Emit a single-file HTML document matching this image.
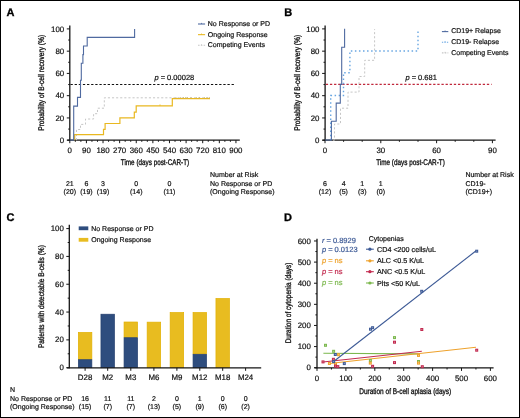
<!DOCTYPE html>
<html><head><meta charset="utf-8"><style>
html,body{margin:0;padding:0;background:#fff;width:520px;height:418px;overflow:hidden}
svg{display:block}
text{font-family:"Liberation Sans", sans-serif} svg{will-change:transform} text{text-rendering:geometricPrecision}
</style></head><body>
<svg fill="#1a1a1a" width="520" height="418" viewBox="0 0 520 418">
<rect x="0.5" y="0.5" width="519" height="417" fill="#fff" stroke="#000" stroke-width="1"/>
<line x1="69.80" y1="25.60" x2="69.80" y2="140.80" stroke="#151515" stroke-width="1.3"/>
<line x1="67.20" y1="140.20" x2="239.80" y2="140.20" stroke="#151515" stroke-width="1.3"/>
<line x1="66.80" y1="140.20" x2="69.80" y2="140.20" stroke="#151515" stroke-width="1"/>
<line x1="68.20" y1="129.07" x2="69.80" y2="129.07" stroke="#151515" stroke-width="1"/>
<line x1="66.80" y1="117.94" x2="69.80" y2="117.94" stroke="#151515" stroke-width="1"/>
<line x1="68.20" y1="106.81" x2="69.80" y2="106.81" stroke="#151515" stroke-width="1"/>
<line x1="66.80" y1="95.68" x2="69.80" y2="95.68" stroke="#151515" stroke-width="1"/>
<line x1="68.20" y1="84.55" x2="69.80" y2="84.55" stroke="#151515" stroke-width="1"/>
<line x1="66.80" y1="73.42" x2="69.80" y2="73.42" stroke="#151515" stroke-width="1"/>
<line x1="68.20" y1="62.29" x2="69.80" y2="62.29" stroke="#151515" stroke-width="1"/>
<line x1="66.80" y1="51.16" x2="69.80" y2="51.16" stroke="#151515" stroke-width="1"/>
<line x1="68.20" y1="40.03" x2="69.80" y2="40.03" stroke="#151515" stroke-width="1"/>
<line x1="66.80" y1="28.90" x2="69.80" y2="28.90" stroke="#151515" stroke-width="1"/>
<text x="64.20" y="142.80" font-size="7.9" text-anchor="end" fill="#111" stroke="#111" stroke-width="0.2">0</text>
<text x="64.20" y="120.54" font-size="7.9" text-anchor="end" fill="#111" stroke="#111" stroke-width="0.2">20</text>
<text x="64.20" y="98.28" font-size="7.9" text-anchor="end" fill="#111" stroke="#111" stroke-width="0.2">40</text>
<text x="64.20" y="76.02" font-size="7.9" text-anchor="end" fill="#111" stroke="#111" stroke-width="0.2">60</text>
<text x="64.20" y="53.76" font-size="7.9" text-anchor="end" fill="#111" stroke="#111" stroke-width="0.2">80</text>
<text x="64.20" y="31.50" font-size="7.9" text-anchor="end" fill="#111" stroke="#111" stroke-width="0.2">100</text>
<line x1="69.80" y1="140.20" x2="69.80" y2="143.20" stroke="#151515" stroke-width="1"/>
<line x1="75.34" y1="140.20" x2="75.34" y2="141.80" stroke="#151515" stroke-width="1"/>
<line x1="80.88" y1="140.20" x2="80.88" y2="141.80" stroke="#151515" stroke-width="1"/>
<line x1="86.41" y1="140.20" x2="86.41" y2="143.20" stroke="#151515" stroke-width="1"/>
<line x1="91.95" y1="140.20" x2="91.95" y2="141.80" stroke="#151515" stroke-width="1"/>
<line x1="97.49" y1="140.20" x2="97.49" y2="141.80" stroke="#151515" stroke-width="1"/>
<line x1="103.03" y1="140.20" x2="103.03" y2="143.20" stroke="#151515" stroke-width="1"/>
<line x1="108.57" y1="140.20" x2="108.57" y2="141.80" stroke="#151515" stroke-width="1"/>
<line x1="114.10" y1="140.20" x2="114.10" y2="141.80" stroke="#151515" stroke-width="1"/>
<line x1="119.64" y1="140.20" x2="119.64" y2="143.20" stroke="#151515" stroke-width="1"/>
<line x1="125.18" y1="140.20" x2="125.18" y2="141.80" stroke="#151515" stroke-width="1"/>
<line x1="130.72" y1="140.20" x2="130.72" y2="141.80" stroke="#151515" stroke-width="1"/>
<line x1="136.26" y1="140.20" x2="136.26" y2="143.20" stroke="#151515" stroke-width="1"/>
<line x1="141.79" y1="140.20" x2="141.79" y2="141.80" stroke="#151515" stroke-width="1"/>
<line x1="147.33" y1="140.20" x2="147.33" y2="141.80" stroke="#151515" stroke-width="1"/>
<line x1="152.87" y1="140.20" x2="152.87" y2="143.20" stroke="#151515" stroke-width="1"/>
<line x1="158.41" y1="140.20" x2="158.41" y2="141.80" stroke="#151515" stroke-width="1"/>
<line x1="163.95" y1="140.20" x2="163.95" y2="141.80" stroke="#151515" stroke-width="1"/>
<line x1="169.48" y1="140.20" x2="169.48" y2="143.20" stroke="#151515" stroke-width="1"/>
<line x1="175.02" y1="140.20" x2="175.02" y2="141.80" stroke="#151515" stroke-width="1"/>
<line x1="180.56" y1="140.20" x2="180.56" y2="141.80" stroke="#151515" stroke-width="1"/>
<line x1="186.10" y1="140.20" x2="186.10" y2="143.20" stroke="#151515" stroke-width="1"/>
<line x1="191.64" y1="140.20" x2="191.64" y2="141.80" stroke="#151515" stroke-width="1"/>
<line x1="197.17" y1="140.20" x2="197.17" y2="141.80" stroke="#151515" stroke-width="1"/>
<line x1="202.71" y1="140.20" x2="202.71" y2="143.20" stroke="#151515" stroke-width="1"/>
<line x1="208.25" y1="140.20" x2="208.25" y2="141.80" stroke="#151515" stroke-width="1"/>
<line x1="213.79" y1="140.20" x2="213.79" y2="141.80" stroke="#151515" stroke-width="1"/>
<line x1="219.33" y1="140.20" x2="219.33" y2="143.20" stroke="#151515" stroke-width="1"/>
<line x1="224.86" y1="140.20" x2="224.86" y2="141.80" stroke="#151515" stroke-width="1"/>
<line x1="230.40" y1="140.20" x2="230.40" y2="141.80" stroke="#151515" stroke-width="1"/>
<line x1="235.94" y1="140.20" x2="235.94" y2="143.20" stroke="#151515" stroke-width="1"/>
<text x="69.80" y="152.60" font-size="7.9" text-anchor="middle" fill="#111" stroke="#111" stroke-width="0.2">0</text>
<text x="86.41" y="152.60" font-size="7.9" text-anchor="middle" fill="#111" stroke="#111" stroke-width="0.2">90</text>
<text x="103.03" y="152.60" font-size="7.9" text-anchor="middle" fill="#111" stroke="#111" stroke-width="0.2">180</text>
<text x="119.64" y="152.60" font-size="7.9" text-anchor="middle" fill="#111" stroke="#111" stroke-width="0.2">270</text>
<text x="136.26" y="152.60" font-size="7.9" text-anchor="middle" fill="#111" stroke="#111" stroke-width="0.2">360</text>
<text x="152.87" y="152.60" font-size="7.9" text-anchor="middle" fill="#111" stroke="#111" stroke-width="0.2">450</text>
<text x="169.48" y="152.60" font-size="7.9" text-anchor="middle" fill="#111" stroke="#111" stroke-width="0.2">540</text>
<text x="186.10" y="152.60" font-size="7.9" text-anchor="middle" fill="#111" stroke="#111" stroke-width="0.2">630</text>
<text x="202.71" y="152.60" font-size="7.9" text-anchor="middle" fill="#111" stroke="#111" stroke-width="0.2">720</text>
<text x="219.33" y="152.60" font-size="7.9" text-anchor="middle" fill="#111" stroke="#111" stroke-width="0.2">810</text>
<text x="235.94" y="152.60" font-size="7.9" text-anchor="middle" fill="#111" stroke="#111" stroke-width="0.2">900</text>
<text x="155.00" y="165.40" font-size="8.2" text-anchor="middle" fill="#111" stroke="#111" stroke-width="0.32" textLength="68.4" lengthAdjust="spacingAndGlyphs">Time (days post-CAR-T)</text>
<text transform="translate(44.30,82.80) rotate(-90)" text-anchor="middle" font-size="8.2" textLength="95.9" lengthAdjust="spacingAndGlyphs" fill="#111" stroke="#111" stroke-width="0.32">Probability of B-cell recovery (%)</text>
<line x1="70.50" y1="84.50" x2="235.30" y2="84.50" stroke="#111" stroke-width="1.1" stroke-dasharray="2.3 1.83"/>
<text x="154.40" y="80.40" font-size="7.5" fill="#111" stroke="#111" stroke-width="0.2"><tspan font-style="italic">p</tspan> = 0.00028</text>
<polyline points="76.50,140.20 76.50,140.20 76.50,129.50 80.50,129.50 80.50,124.40 85.50,124.40 85.50,119.00 93.60,119.00 93.60,113.70 97.50,113.70 97.50,108.20 104.30,108.20 104.30,97.80 210.00,97.80" fill="none" stroke="#c6c6c6" stroke-width="1" stroke-dasharray="2.1 2.0"/>
<polyline points="74.70,140.20 74.70,140.20 74.70,134.70 103.50,134.70 103.50,129.30 105.10,129.30 105.10,123.50 119.90,123.50 119.90,117.90 134.30,117.90 134.30,112.20 136.20,112.20 136.20,105.90 172.30,105.90 172.30,98.60 210.00,98.60" fill="none" stroke="#e9b820" stroke-width="1.2"/>
<line x1="160.00" y1="104.40" x2="160.00" y2="105.80" stroke="#e9b820" stroke-width="0.8"/>
<line x1="176.00" y1="97.10" x2="176.00" y2="98.60" stroke="#c9b060" stroke-width="0.7"/>
<line x1="180.50" y1="97.10" x2="180.50" y2="98.60" stroke="#c9b060" stroke-width="0.7"/>
<line x1="183.50" y1="97.10" x2="183.50" y2="98.60" stroke="#c9b060" stroke-width="0.7"/>
<line x1="185.50" y1="97.10" x2="185.50" y2="98.60" stroke="#c9b060" stroke-width="0.7"/>
<line x1="187.50" y1="97.10" x2="187.50" y2="98.60" stroke="#c9b060" stroke-width="0.7"/>
<line x1="191.00" y1="97.10" x2="191.00" y2="98.60" stroke="#c9b060" stroke-width="0.7"/>
<line x1="196.50" y1="97.10" x2="196.50" y2="98.60" stroke="#c9b060" stroke-width="0.7"/>
<line x1="199.50" y1="97.10" x2="199.50" y2="98.60" stroke="#c9b060" stroke-width="0.7"/>
<line x1="204.50" y1="97.10" x2="204.50" y2="98.60" stroke="#c9b060" stroke-width="0.7"/>
<line x1="207.00" y1="97.10" x2="207.00" y2="98.60" stroke="#c9b060" stroke-width="0.7"/>
<line x1="209.50" y1="97.10" x2="209.50" y2="98.60" stroke="#c9b060" stroke-width="0.7"/>
<polyline points="69.80,140.00 73.70,140.00 73.70,106.10 77.50,106.10 77.50,97.40 80.50,97.40 80.50,80.30 81.30,80.30 81.30,63.20 82.90,63.20 82.90,54.60 83.50,54.60 83.50,46.00 87.20,46.00 87.20,37.40 134.60,37.40 134.60,29.00" fill="none" stroke="#4f6aa0" stroke-width="1.1"/>
<line x1="198.00" y1="24.00" x2="205.10" y2="24.00" stroke="#4f6aa0" stroke-width="1.1"/>
<line x1="201.50" y1="22.90" x2="201.50" y2="24.00" stroke="#4f6aa0" stroke-width="0.8"/>
<text x="207.80" y="25.75" font-size="7" fill="#111" stroke="#111" stroke-width="0.2">No Response or PD</text>
<line x1="198.00" y1="34.65" x2="205.10" y2="34.65" stroke="#e9b820" stroke-width="1.1"/>
<line x1="201.50" y1="33.55" x2="201.50" y2="34.65" stroke="#e9b820" stroke-width="0.8"/>
<text x="207.80" y="36.60" font-size="7" fill="#111" stroke="#111" stroke-width="0.2">Ongoing Response</text>
<line x1="198.00" y1="45.30" x2="205.10" y2="45.30" stroke="#c6c6c6" stroke-width="1.1" stroke-dasharray="1.6 1.2"/>
<line x1="201.50" y1="44.20" x2="201.50" y2="45.30" stroke="#c6c6c6" stroke-width="0.8"/>
<text x="207.80" y="47.45" font-size="7" fill="#111" stroke="#111" stroke-width="0.2">Competing Events</text>
<text x="69.80" y="186.00" font-size="7" text-anchor="middle" fill="#111" stroke="#111" stroke-width="0.2">21</text>
<text x="69.80" y="194.20" font-size="7" text-anchor="middle" fill="#111" stroke="#111" stroke-width="0.2">(20)</text>
<text x="86.41" y="186.00" font-size="7" text-anchor="middle" fill="#111" stroke="#111" stroke-width="0.2">6</text>
<text x="86.41" y="194.20" font-size="7" text-anchor="middle" fill="#111" stroke="#111" stroke-width="0.2">(19)</text>
<text x="103.03" y="186.00" font-size="7" text-anchor="middle" fill="#111" stroke="#111" stroke-width="0.2">3</text>
<text x="103.03" y="194.20" font-size="7" text-anchor="middle" fill="#111" stroke="#111" stroke-width="0.2">(19)</text>
<text x="136.26" y="186.00" font-size="7" text-anchor="middle" fill="#111" stroke="#111" stroke-width="0.2">0</text>
<text x="136.26" y="194.20" font-size="7" text-anchor="middle" fill="#111" stroke="#111" stroke-width="0.2">(14)</text>
<text x="169.48" y="186.00" font-size="7" text-anchor="middle" fill="#111" stroke="#111" stroke-width="0.2">0</text>
<text x="169.48" y="194.20" font-size="7" text-anchor="middle" fill="#111" stroke="#111" stroke-width="0.2">(11)</text>
<text x="210.00" y="177.20" font-size="7" fill="#111" stroke="#111" stroke-width="0.2">Number at Risk</text>
<text x="210.00" y="185.70" font-size="7" fill="#111" stroke="#111" stroke-width="0.2">No Response or PD</text>
<text x="210.00" y="194.10" font-size="7" fill="#111" stroke="#111" stroke-width="0.2">(Ongoing Response)</text>
<text x="6.60" y="16.40" font-size="11" fill="#000" stroke="#000" stroke-width="0.3" font-weight="bold">A</text>
<line x1="325.10" y1="25.40" x2="325.10" y2="140.80" stroke="#151515" stroke-width="1.3"/>
<line x1="322.50" y1="140.20" x2="495.60" y2="140.20" stroke="#151515" stroke-width="1.3"/>
<line x1="322.10" y1="140.20" x2="325.10" y2="140.20" stroke="#151515" stroke-width="1"/>
<line x1="323.50" y1="129.07" x2="325.10" y2="129.07" stroke="#151515" stroke-width="1"/>
<line x1="322.10" y1="117.94" x2="325.10" y2="117.94" stroke="#151515" stroke-width="1"/>
<line x1="323.50" y1="106.81" x2="325.10" y2="106.81" stroke="#151515" stroke-width="1"/>
<line x1="322.10" y1="95.68" x2="325.10" y2="95.68" stroke="#151515" stroke-width="1"/>
<line x1="323.50" y1="84.55" x2="325.10" y2="84.55" stroke="#151515" stroke-width="1"/>
<line x1="322.10" y1="73.42" x2="325.10" y2="73.42" stroke="#151515" stroke-width="1"/>
<line x1="323.50" y1="62.29" x2="325.10" y2="62.29" stroke="#151515" stroke-width="1"/>
<line x1="322.10" y1="51.16" x2="325.10" y2="51.16" stroke="#151515" stroke-width="1"/>
<line x1="323.50" y1="40.03" x2="325.10" y2="40.03" stroke="#151515" stroke-width="1"/>
<line x1="322.10" y1="28.90" x2="325.10" y2="28.90" stroke="#151515" stroke-width="1"/>
<text x="319.50" y="142.80" font-size="7.9" text-anchor="end" fill="#111" stroke="#111" stroke-width="0.2">0</text>
<text x="319.50" y="120.54" font-size="7.9" text-anchor="end" fill="#111" stroke="#111" stroke-width="0.2">20</text>
<text x="319.50" y="98.28" font-size="7.9" text-anchor="end" fill="#111" stroke="#111" stroke-width="0.2">40</text>
<text x="319.50" y="76.02" font-size="7.9" text-anchor="end" fill="#111" stroke="#111" stroke-width="0.2">60</text>
<text x="319.50" y="53.76" font-size="7.9" text-anchor="end" fill="#111" stroke="#111" stroke-width="0.2">80</text>
<text x="319.50" y="31.50" font-size="7.9" text-anchor="end" fill="#111" stroke="#111" stroke-width="0.2">100</text>
<line x1="325.00" y1="140.20" x2="325.00" y2="143.20" stroke="#151515" stroke-width="1"/>
<line x1="343.60" y1="140.20" x2="343.60" y2="141.80" stroke="#151515" stroke-width="1"/>
<line x1="362.20" y1="140.20" x2="362.20" y2="141.80" stroke="#151515" stroke-width="1"/>
<line x1="380.80" y1="140.20" x2="380.80" y2="143.20" stroke="#151515" stroke-width="1"/>
<line x1="399.40" y1="140.20" x2="399.40" y2="141.80" stroke="#151515" stroke-width="1"/>
<line x1="418.00" y1="140.20" x2="418.00" y2="141.80" stroke="#151515" stroke-width="1"/>
<line x1="436.60" y1="140.20" x2="436.60" y2="143.20" stroke="#151515" stroke-width="1"/>
<line x1="455.20" y1="140.20" x2="455.20" y2="141.80" stroke="#151515" stroke-width="1"/>
<line x1="473.80" y1="140.20" x2="473.80" y2="141.80" stroke="#151515" stroke-width="1"/>
<line x1="492.40" y1="140.20" x2="492.40" y2="143.20" stroke="#151515" stroke-width="1"/>
<text x="325.00" y="152.60" font-size="7.9" text-anchor="middle" fill="#111" stroke="#111" stroke-width="0.2">0</text>
<text x="380.80" y="152.60" font-size="7.9" text-anchor="middle" fill="#111" stroke="#111" stroke-width="0.2">30</text>
<text x="436.60" y="152.60" font-size="7.9" text-anchor="middle" fill="#111" stroke="#111" stroke-width="0.2">60</text>
<text x="492.40" y="152.60" font-size="7.9" text-anchor="middle" fill="#111" stroke="#111" stroke-width="0.2">90</text>
<text x="410.50" y="165.40" font-size="8.2" text-anchor="middle" fill="#111" stroke="#111" stroke-width="0.32" textLength="68.7" lengthAdjust="spacingAndGlyphs">Time (days post-CAR-T)</text>
<text transform="translate(299.60,82.80) rotate(-90)" text-anchor="middle" font-size="8.2" textLength="95.9" lengthAdjust="spacingAndGlyphs" fill="#111" stroke="#111" stroke-width="0.32">Probability of B-cell recovery (%)</text>
<line x1="325.80" y1="84.40" x2="491.60" y2="84.40" stroke="#c0283c" stroke-width="1.1" stroke-dasharray="2.3 1.83"/>
<text x="405.40" y="80.40" font-size="7.5" fill="#111" stroke="#111" stroke-width="0.2"><tspan font-style="italic">p</tspan> = 0.681</text>
<polyline points="333.00,140.20 334.50,140.20 334.50,124.00 340.50,124.00 340.50,108.20 348.00,108.20 348.00,92.10 359.00,92.10 359.00,76.50 364.70,76.50 364.70,60.30 374.60,60.30 374.60,29.20" fill="none" stroke="#c6c6c6" stroke-width="1" stroke-dasharray="2.1 2.0"/>
<polyline points="330.70,140.20 330.70,95.50 343.50,95.50 343.50,72.70 349.90,72.70 349.90,51.00 418.00,51.00 418.00,29.50" fill="none" stroke="#68a6e2" stroke-width="1.4" stroke-dasharray="1.5 2.55"/>
<polyline points="325.10,140.00 331.40,140.00 331.40,121.30 336.20,121.30 336.20,103.10 340.30,103.10 340.30,84.40 341.70,84.40 341.70,47.20 344.60,47.20 344.60,28.80" fill="none" stroke="#4f6aa0" stroke-width="1.1"/>
<line x1="441.90" y1="31.60" x2="448.30" y2="31.60" stroke="#4f6aa0" stroke-width="1.1"/>
<line x1="445.10" y1="30.50" x2="445.10" y2="31.60" stroke="#4f6aa0" stroke-width="0.8"/>
<text x="451.20" y="33.30" font-size="7" fill="#111" stroke="#111" stroke-width="0.2">CD19+ Relapse</text>
<line x1="441.90" y1="42.25" x2="448.30" y2="42.25" stroke="#68a6e2" stroke-width="1.1" stroke-dasharray="1.3 1.2"/>
<line x1="445.10" y1="41.15" x2="445.10" y2="42.25" stroke="#68a6e2" stroke-width="0.8"/>
<text x="451.20" y="44.15" font-size="7" fill="#111" stroke="#111" stroke-width="0.2">CD19- Relapse</text>
<line x1="441.90" y1="52.90" x2="448.30" y2="52.90" stroke="#c6c6c6" stroke-width="1.1" stroke-dasharray="1.6 1.2"/>
<line x1="445.10" y1="51.80" x2="445.10" y2="52.90" stroke="#c6c6c6" stroke-width="0.8"/>
<text x="451.20" y="55.00" font-size="7" fill="#111" stroke="#111" stroke-width="0.2">Competing Events</text>
<text x="325.00" y="186.00" font-size="7" text-anchor="middle" fill="#111" stroke="#111" stroke-width="0.2">6</text>
<text x="325.00" y="194.20" font-size="7" text-anchor="middle" fill="#111" stroke="#111" stroke-width="0.2">(12)</text>
<text x="343.60" y="186.00" font-size="7" text-anchor="middle" fill="#111" stroke="#111" stroke-width="0.2">4</text>
<text x="343.60" y="194.20" font-size="7" text-anchor="middle" fill="#111" stroke="#111" stroke-width="0.2">(5)</text>
<text x="362.20" y="186.00" font-size="7" text-anchor="middle" fill="#111" stroke="#111" stroke-width="0.2">1</text>
<text x="362.20" y="194.20" font-size="7" text-anchor="middle" fill="#111" stroke="#111" stroke-width="0.2">(3)</text>
<text x="380.80" y="186.00" font-size="7" text-anchor="middle" fill="#111" stroke="#111" stroke-width="0.2">1</text>
<text x="380.80" y="194.20" font-size="7" text-anchor="middle" fill="#111" stroke="#111" stroke-width="0.2">(0)</text>
<text x="465.40" y="177.00" font-size="7" fill="#111" stroke="#111" stroke-width="0.2">Number at Risk</text>
<text x="465.40" y="185.50" font-size="7" fill="#111" stroke="#111" stroke-width="0.2">CD19-</text>
<text x="465.40" y="194.10" font-size="7" fill="#111" stroke="#111" stroke-width="0.2">(CD19+)</text>
<text x="284.20" y="15.90" font-size="11" fill="#000" stroke="#000" stroke-width="0.3" font-weight="bold">B</text>
<rect x="78.35" y="332.44" width="13.5" height="26.91" fill="#e8bc20" stroke="#e2b000" stroke-width="0.7"/>
<rect x="78.35" y="359.70" width="13.5" height="8.00" fill="#2e4d7e" stroke="#243f6e" stroke-width="0.7"/>
<rect x="100.95" y="314.22" width="13.5" height="53.48" fill="#2e4d7e" stroke="#243f6e" stroke-width="0.7"/>
<rect x="124.05" y="322.01" width="13.5" height="15.37" fill="#e8bc20" stroke="#e2b000" stroke-width="0.7"/>
<rect x="124.05" y="337.73" width="13.5" height="29.97" fill="#2e4d7e" stroke="#243f6e" stroke-width="0.7"/>
<rect x="147.15" y="322.15" width="13.5" height="45.55" fill="#e8bc20" stroke="#e2b000" stroke-width="0.7"/>
<rect x="170.15" y="312.55" width="13.5" height="55.15" fill="#e8bc20" stroke="#e2b000" stroke-width="0.7"/>
<rect x="193.05" y="312.55" width="13.5" height="41.38" fill="#e8bc20" stroke="#e2b000" stroke-width="0.7"/>
<rect x="193.05" y="354.28" width="13.5" height="13.42" fill="#2e4d7e" stroke="#243f6e" stroke-width="0.7"/>
<rect x="215.95" y="298.50" width="13.5" height="69.20" fill="#e8bc20" stroke="#e2b000" stroke-width="0.7"/>
<line x1="69.30" y1="224.80" x2="69.30" y2="368.30" stroke="#151515" stroke-width="1.3"/>
<line x1="66.80" y1="367.90" x2="261.20" y2="367.90" stroke="#151515" stroke-width="1.3"/>
<line x1="66.30" y1="367.70" x2="69.30" y2="367.70" stroke="#151515" stroke-width="1"/>
<line x1="67.70" y1="353.79" x2="69.30" y2="353.79" stroke="#151515" stroke-width="1"/>
<line x1="66.30" y1="339.88" x2="69.30" y2="339.88" stroke="#151515" stroke-width="1"/>
<line x1="67.70" y1="325.97" x2="69.30" y2="325.97" stroke="#151515" stroke-width="1"/>
<line x1="66.30" y1="312.06" x2="69.30" y2="312.06" stroke="#151515" stroke-width="1"/>
<line x1="67.70" y1="298.15" x2="69.30" y2="298.15" stroke="#151515" stroke-width="1"/>
<line x1="66.30" y1="284.24" x2="69.30" y2="284.24" stroke="#151515" stroke-width="1"/>
<line x1="67.70" y1="270.33" x2="69.30" y2="270.33" stroke="#151515" stroke-width="1"/>
<line x1="66.30" y1="256.42" x2="69.30" y2="256.42" stroke="#151515" stroke-width="1"/>
<line x1="67.70" y1="242.51" x2="69.30" y2="242.51" stroke="#151515" stroke-width="1"/>
<line x1="66.30" y1="228.60" x2="69.30" y2="228.60" stroke="#151515" stroke-width="1"/>
<text x="63.80" y="370.30" font-size="7.9" text-anchor="end" fill="#111" stroke="#111" stroke-width="0.2">0</text>
<text x="63.80" y="342.48" font-size="7.9" text-anchor="end" fill="#111" stroke="#111" stroke-width="0.2">20</text>
<text x="63.80" y="314.66" font-size="7.9" text-anchor="end" fill="#111" stroke="#111" stroke-width="0.2">40</text>
<text x="63.80" y="286.84" font-size="7.9" text-anchor="end" fill="#111" stroke="#111" stroke-width="0.2">60</text>
<text x="63.80" y="259.02" font-size="7.9" text-anchor="end" fill="#111" stroke="#111" stroke-width="0.2">80</text>
<text x="63.80" y="231.20" font-size="7.9" text-anchor="end" fill="#111" stroke="#111" stroke-width="0.2">100</text>
<line x1="85.10" y1="367.90" x2="85.10" y2="370.80" stroke="#151515" stroke-width="1"/>
<text x="85.10" y="379.90" font-size="7.9" text-anchor="middle" fill="#111" stroke="#111" stroke-width="0.2">D28</text>
<line x1="107.70" y1="367.90" x2="107.70" y2="370.80" stroke="#151515" stroke-width="1"/>
<text x="107.70" y="379.90" font-size="7.9" text-anchor="middle" fill="#111" stroke="#111" stroke-width="0.2">M2</text>
<line x1="130.80" y1="367.90" x2="130.80" y2="370.80" stroke="#151515" stroke-width="1"/>
<text x="130.80" y="379.90" font-size="7.9" text-anchor="middle" fill="#111" stroke="#111" stroke-width="0.2">M3</text>
<line x1="153.90" y1="367.90" x2="153.90" y2="370.80" stroke="#151515" stroke-width="1"/>
<text x="153.90" y="379.90" font-size="7.9" text-anchor="middle" fill="#111" stroke="#111" stroke-width="0.2">M6</text>
<line x1="176.90" y1="367.90" x2="176.90" y2="370.80" stroke="#151515" stroke-width="1"/>
<text x="176.90" y="379.90" font-size="7.9" text-anchor="middle" fill="#111" stroke="#111" stroke-width="0.2">M9</text>
<line x1="199.80" y1="367.90" x2="199.80" y2="370.80" stroke="#151515" stroke-width="1"/>
<text x="199.80" y="379.90" font-size="7.9" text-anchor="middle" fill="#111" stroke="#111" stroke-width="0.2">M12</text>
<line x1="222.70" y1="367.90" x2="222.70" y2="370.80" stroke="#151515" stroke-width="1"/>
<text x="222.70" y="379.90" font-size="7.9" text-anchor="middle" fill="#111" stroke="#111" stroke-width="0.2">M18</text>
<line x1="245.60" y1="367.90" x2="245.60" y2="370.80" stroke="#151515" stroke-width="1"/>
<text x="245.60" y="379.90" font-size="7.9" text-anchor="middle" fill="#111" stroke="#111" stroke-width="0.2">M24</text>
<text transform="translate(44.00,296.60) rotate(-90)" text-anchor="middle" font-size="8.2" textLength="103" lengthAdjust="spacingAndGlyphs" fill="#111" stroke="#111" stroke-width="0.32">Patients with detectable B-cells (%)</text>
<rect x="78.7" y="226.4" width="9.6" height="3.8" fill="#2e4d7e"/>
<rect x="78.7" y="237.9" width="9.6" height="3.8" fill="#e8bc20"/>
<text x="91.20" y="231.10" font-size="7" fill="#111" stroke="#111" stroke-width="0.2">No Response or PD</text>
<text x="91.20" y="242.00" font-size="7" fill="#111" stroke="#111" stroke-width="0.2">Ongoing Response</text>
<text x="10.00" y="391.80" font-size="7" fill="#111" stroke="#111" stroke-width="0.2">N</text>
<text x="10.00" y="400.80" font-size="7" fill="#111" stroke="#111" stroke-width="0.2">No Response or PD</text>
<text x="10.00" y="409.20" font-size="7" fill="#111" stroke="#111" stroke-width="0.2">(Ongoing Response)</text>
<text x="85.10" y="400.80" font-size="7" text-anchor="middle" fill="#111" stroke="#111" stroke-width="0.2">16</text>
<text x="85.10" y="409.20" font-size="7" text-anchor="middle" fill="#111" stroke="#111" stroke-width="0.2">(15)</text>
<text x="107.70" y="400.80" font-size="7" text-anchor="middle" fill="#111" stroke="#111" stroke-width="0.2">11</text>
<text x="107.70" y="409.20" font-size="7" text-anchor="middle" fill="#111" stroke="#111" stroke-width="0.2">(7)</text>
<text x="130.80" y="400.80" font-size="7" text-anchor="middle" fill="#111" stroke="#111" stroke-width="0.2">11</text>
<text x="130.80" y="409.20" font-size="7" text-anchor="middle" fill="#111" stroke="#111" stroke-width="0.2">(7)</text>
<text x="153.90" y="400.80" font-size="7" text-anchor="middle" fill="#111" stroke="#111" stroke-width="0.2">2</text>
<text x="153.90" y="409.20" font-size="7" text-anchor="middle" fill="#111" stroke="#111" stroke-width="0.2">(13)</text>
<text x="176.90" y="400.80" font-size="7" text-anchor="middle" fill="#111" stroke="#111" stroke-width="0.2">0</text>
<text x="176.90" y="409.20" font-size="7" text-anchor="middle" fill="#111" stroke="#111" stroke-width="0.2">(5)</text>
<text x="199.80" y="400.80" font-size="7" text-anchor="middle" fill="#111" stroke="#111" stroke-width="0.2">1</text>
<text x="199.80" y="409.20" font-size="7" text-anchor="middle" fill="#111" stroke="#111" stroke-width="0.2">(9)</text>
<text x="222.70" y="400.80" font-size="7" text-anchor="middle" fill="#111" stroke="#111" stroke-width="0.2">0</text>
<text x="222.70" y="409.20" font-size="7" text-anchor="middle" fill="#111" stroke="#111" stroke-width="0.2">(6)</text>
<text x="245.60" y="400.80" font-size="7" text-anchor="middle" fill="#111" stroke="#111" stroke-width="0.2">0</text>
<text x="245.60" y="409.20" font-size="7" text-anchor="middle" fill="#111" stroke="#111" stroke-width="0.2">(2)</text>
<text x="6.60" y="220.90" font-size="11" fill="#000" stroke="#000" stroke-width="0.3" font-weight="bold">C</text>
<line x1="317.00" y1="238.70" x2="317.00" y2="368.30" stroke="#151515" stroke-width="1.3"/>
<line x1="314.50" y1="367.90" x2="493.60" y2="367.90" stroke="#151515" stroke-width="1.3"/>
<line x1="314.00" y1="367.70" x2="317.00" y2="367.70" stroke="#151515" stroke-width="1"/>
<line x1="315.40" y1="357.14" x2="317.00" y2="357.14" stroke="#151515" stroke-width="1"/>
<line x1="314.00" y1="346.58" x2="317.00" y2="346.58" stroke="#151515" stroke-width="1"/>
<line x1="315.40" y1="336.02" x2="317.00" y2="336.02" stroke="#151515" stroke-width="1"/>
<line x1="314.00" y1="325.46" x2="317.00" y2="325.46" stroke="#151515" stroke-width="1"/>
<line x1="315.40" y1="314.90" x2="317.00" y2="314.90" stroke="#151515" stroke-width="1"/>
<line x1="314.00" y1="304.34" x2="317.00" y2="304.34" stroke="#151515" stroke-width="1"/>
<line x1="315.40" y1="293.78" x2="317.00" y2="293.78" stroke="#151515" stroke-width="1"/>
<line x1="314.00" y1="283.22" x2="317.00" y2="283.22" stroke="#151515" stroke-width="1"/>
<line x1="315.40" y1="272.66" x2="317.00" y2="272.66" stroke="#151515" stroke-width="1"/>
<line x1="314.00" y1="262.10" x2="317.00" y2="262.10" stroke="#151515" stroke-width="1"/>
<line x1="315.40" y1="251.54" x2="317.00" y2="251.54" stroke="#151515" stroke-width="1"/>
<line x1="314.00" y1="240.98" x2="317.00" y2="240.98" stroke="#151515" stroke-width="1"/>
<text x="310.90" y="370.30" font-size="7.9" text-anchor="end" fill="#111" stroke="#111" stroke-width="0.2">0</text>
<text x="310.90" y="349.18" font-size="7.9" text-anchor="end" fill="#111" stroke="#111" stroke-width="0.2">100</text>
<text x="310.90" y="328.06" font-size="7.9" text-anchor="end" fill="#111" stroke="#111" stroke-width="0.2">200</text>
<text x="310.90" y="306.94" font-size="7.9" text-anchor="end" fill="#111" stroke="#111" stroke-width="0.2">300</text>
<text x="310.90" y="285.82" font-size="7.9" text-anchor="end" fill="#111" stroke="#111" stroke-width="0.2">400</text>
<text x="310.90" y="264.70" font-size="7.9" text-anchor="end" fill="#111" stroke="#111" stroke-width="0.2">500</text>
<text x="310.90" y="243.58" font-size="7.9" text-anchor="end" fill="#111" stroke="#111" stroke-width="0.2">600</text>
<line x1="317.00" y1="367.90" x2="317.00" y2="370.90" stroke="#151515" stroke-width="1"/>
<line x1="331.45" y1="367.90" x2="331.45" y2="369.50" stroke="#151515" stroke-width="1"/>
<line x1="345.90" y1="367.90" x2="345.90" y2="370.90" stroke="#151515" stroke-width="1"/>
<line x1="360.35" y1="367.90" x2="360.35" y2="369.50" stroke="#151515" stroke-width="1"/>
<line x1="374.80" y1="367.90" x2="374.80" y2="370.90" stroke="#151515" stroke-width="1"/>
<line x1="389.25" y1="367.90" x2="389.25" y2="369.50" stroke="#151515" stroke-width="1"/>
<line x1="403.70" y1="367.90" x2="403.70" y2="370.90" stroke="#151515" stroke-width="1"/>
<line x1="418.15" y1="367.90" x2="418.15" y2="369.50" stroke="#151515" stroke-width="1"/>
<line x1="432.60" y1="367.90" x2="432.60" y2="370.90" stroke="#151515" stroke-width="1"/>
<line x1="447.05" y1="367.90" x2="447.05" y2="369.50" stroke="#151515" stroke-width="1"/>
<line x1="461.50" y1="367.90" x2="461.50" y2="370.90" stroke="#151515" stroke-width="1"/>
<line x1="475.95" y1="367.90" x2="475.95" y2="369.50" stroke="#151515" stroke-width="1"/>
<line x1="490.40" y1="367.90" x2="490.40" y2="370.90" stroke="#151515" stroke-width="1"/>
<text x="317.00" y="380.60" font-size="7.9" text-anchor="middle" fill="#111" stroke="#111" stroke-width="0.2">0</text>
<text x="345.90" y="380.60" font-size="7.9" text-anchor="middle" fill="#111" stroke="#111" stroke-width="0.2">100</text>
<text x="374.80" y="380.60" font-size="7.9" text-anchor="middle" fill="#111" stroke="#111" stroke-width="0.2">200</text>
<text x="403.70" y="380.60" font-size="7.9" text-anchor="middle" fill="#111" stroke="#111" stroke-width="0.2">300</text>
<text x="432.60" y="380.60" font-size="7.9" text-anchor="middle" fill="#111" stroke="#111" stroke-width="0.2">400</text>
<text x="461.50" y="380.60" font-size="7.9" text-anchor="middle" fill="#111" stroke="#111" stroke-width="0.2">500</text>
<text x="490.40" y="380.60" font-size="7.9" text-anchor="middle" fill="#111" stroke="#111" stroke-width="0.2">600</text>
<text x="405.20" y="393.90" font-size="8.2" text-anchor="middle" fill="#111" stroke="#111" stroke-width="0.32" textLength="92" lengthAdjust="spacingAndGlyphs">Duration of B-cell aplasia (days)</text>
<text transform="translate(291.20,303.00) rotate(-90)" text-anchor="middle" font-size="8.2" textLength="80.7" lengthAdjust="spacingAndGlyphs" fill="#111" stroke="#111" stroke-width="0.32">Duration of cytopenia (days)</text>
<line x1="323.40" y1="353.20" x2="418.50" y2="353.90" stroke="#7cb84e" stroke-width="1.1"/>
<line x1="329.40" y1="363.50" x2="476.00" y2="347.30" stroke="#eea22c" stroke-width="1.1"/>
<line x1="323.00" y1="362.00" x2="421.80" y2="351.30" stroke="#c22a4f" stroke-width="1.1"/>
<line x1="333.60" y1="361.50" x2="475.80" y2="251.00" stroke="#3d5a96" stroke-width="1.1"/>
<rect x="324.00" y="343.80" width="3" height="3" fill="#7cb84e"/><rect x="325.00" y="344.80" width="1" height="1" fill="#fff" fill-opacity="0.45"/>
<rect x="332.10" y="349.80" width="3" height="3" fill="#7cb84e"/><rect x="333.10" y="350.80" width="1" height="1" fill="#fff" fill-opacity="0.45"/>
<rect x="368.90" y="359.00" width="3" height="3" fill="#7cb84e"/><rect x="369.90" y="360.00" width="1" height="1" fill="#fff" fill-opacity="0.45"/>
<rect x="393.00" y="336.10" width="3" height="3" fill="#7cb84e"/><rect x="394.00" y="337.10" width="1" height="1" fill="#fff" fill-opacity="0.45"/>
<rect x="417.00" y="360.00" width="3" height="3" fill="#7cb84e"/><rect x="418.00" y="361.00" width="1" height="1" fill="#fff" fill-opacity="0.45"/>
<rect x="336.90" y="353.20" width="3" height="3" fill="#eea22c"/><rect x="337.90" y="354.20" width="1" height="1" fill="#fff" fill-opacity="0.45"/>
<rect x="327.90" y="362.00" width="3" height="3" fill="#eea22c"/><rect x="328.90" y="363.00" width="1" height="1" fill="#fff" fill-opacity="0.45"/>
<rect x="334.00" y="362.40" width="3" height="3" fill="#eea22c"/><rect x="335.00" y="363.40" width="1" height="1" fill="#fff" fill-opacity="0.45"/>
<rect x="368.80" y="361.60" width="3" height="3" fill="#eea22c"/><rect x="369.80" y="362.60" width="1" height="1" fill="#fff" fill-opacity="0.45"/>
<rect x="417.00" y="353.90" width="3" height="3" fill="#eea22c"/><rect x="418.00" y="354.90" width="1" height="1" fill="#fff" fill-opacity="0.45"/>
<rect x="417.00" y="361.60" width="3" height="3" fill="#eea22c"/><rect x="418.00" y="362.60" width="1" height="1" fill="#fff" fill-opacity="0.45"/>
<rect x="321.50" y="360.40" width="3" height="3" fill="#c22a4f"/><rect x="322.50" y="361.40" width="1" height="1" fill="#fff" fill-opacity="0.45"/>
<rect x="331.90" y="357.80" width="3" height="3" fill="#c22a4f"/><rect x="332.90" y="358.80" width="1" height="1" fill="#fff" fill-opacity="0.45"/>
<rect x="334.00" y="364.60" width="3" height="3" fill="#c22a4f"/><rect x="335.00" y="365.60" width="1" height="1" fill="#fff" fill-opacity="0.45"/>
<rect x="336.30" y="365.10" width="3" height="3" fill="#c22a4f"/><rect x="337.30" y="366.10" width="1" height="1" fill="#fff" fill-opacity="0.45"/>
<rect x="371.10" y="364.80" width="3" height="3" fill="#c22a4f"/><rect x="372.10" y="365.80" width="1" height="1" fill="#fff" fill-opacity="0.45"/>
<rect x="393.00" y="340.70" width="3" height="3" fill="#c22a4f"/><rect x="394.00" y="341.70" width="1" height="1" fill="#fff" fill-opacity="0.45"/>
<rect x="393.00" y="361.10" width="3" height="3" fill="#c22a4f"/><rect x="394.00" y="362.10" width="1" height="1" fill="#fff" fill-opacity="0.45"/>
<rect x="420.30" y="328.00" width="3" height="3" fill="#c22a4f"/><rect x="421.30" y="329.00" width="1" height="1" fill="#fff" fill-opacity="0.45"/>
<rect x="420.80" y="365.20" width="3" height="3" fill="#c22a4f"/><rect x="421.80" y="366.20" width="1" height="1" fill="#fff" fill-opacity="0.45"/>
<rect x="475.20" y="348.70" width="3" height="3" fill="#c22a4f"/><rect x="476.20" y="349.70" width="1" height="1" fill="#fff" fill-opacity="0.45"/>
<rect x="332.10" y="360.10" width="3" height="3" fill="#3d5a96"/><rect x="333.10" y="361.10" width="1" height="1" fill="#fff" fill-opacity="0.45"/>
<rect x="333.80" y="353.00" width="3" height="3" fill="#3d5a96"/><rect x="334.80" y="354.00" width="1" height="1" fill="#fff" fill-opacity="0.45"/>
<rect x="342.80" y="362.10" width="3" height="3" fill="#3d5a96"/><rect x="343.80" y="363.10" width="1" height="1" fill="#fff" fill-opacity="0.45"/>
<rect x="369.00" y="327.70" width="3" height="3" fill="#3d5a96"/><rect x="370.00" y="328.70" width="1" height="1" fill="#fff" fill-opacity="0.45"/>
<rect x="371.10" y="326.20" width="3" height="3" fill="#3d5a96"/><rect x="372.10" y="327.20" width="1" height="1" fill="#fff" fill-opacity="0.45"/>
<rect x="420.20" y="289.80" width="3" height="3" fill="#3d5a96"/><rect x="421.20" y="290.80" width="1" height="1" fill="#fff" fill-opacity="0.45"/>
<rect x="475.20" y="249.70" width="3" height="3" fill="#3d5a96"/><rect x="476.20" y="250.70" width="1" height="1" fill="#fff" fill-opacity="0.45"/>
<text x="321.90" y="243.10" font-size="7.5" fill="#3d5a96" stroke="#3d5a96" stroke-width="0.2"><tspan font-style="italic">r</tspan> = 0.8929</text>
<text x="321.90" y="252.10" font-size="7.5" fill="#3d5a96" stroke="#3d5a96" stroke-width="0.2"><tspan font-style="italic">p</tspan> = 0.0123</text>
<text x="321.90" y="263.00" font-size="7.5" fill="#eea22c" stroke="#eea22c" stroke-width="0.2"><tspan font-style="italic">p</tspan> = ns</text>
<text x="321.90" y="274.10" font-size="7.5" fill="#c22a4f" stroke="#c22a4f" stroke-width="0.2"><tspan font-style="italic">p</tspan> = ns</text>
<text x="321.90" y="285.40" font-size="7.5" fill="#7cb84e" stroke="#7cb84e" stroke-width="0.2"><tspan font-style="italic">p</tspan> = ns</text>
<text x="368.70" y="241.00" font-size="7" fill="#111" stroke="#111" stroke-width="0.2">Cytopenias</text>
<line x1="366.00" y1="249.20" x2="373.80" y2="249.20" stroke="#3d5a96" stroke-width="1.1"/>
<circle cx="369.9" cy="249.2" r="1.6" fill="#3d5a96"/>
<text x="377.00" y="251.70" font-size="7.2" fill="#111" stroke="#111" stroke-width="0.2">CD4 &lt;200 cells/uL</text>
<line x1="366.00" y1="260.80" x2="373.80" y2="260.80" stroke="#eea22c" stroke-width="1.1"/>
<circle cx="369.9" cy="260.8" r="1.6" fill="#eea22c"/>
<text x="377.00" y="263.30" font-size="7.2" fill="#111" stroke="#111" stroke-width="0.2">ALC &lt;0.5 K/uL</text>
<line x1="366.00" y1="271.70" x2="373.80" y2="271.70" stroke="#c22a4f" stroke-width="1.1"/>
<circle cx="369.9" cy="271.7" r="1.6" fill="#c22a4f"/>
<text x="377.00" y="274.20" font-size="7.2" fill="#111" stroke="#111" stroke-width="0.2">ANC &lt;0.5 K/uL</text>
<line x1="366.00" y1="283.00" x2="373.80" y2="283.00" stroke="#7cb84e" stroke-width="1.1"/>
<circle cx="369.9" cy="283.0" r="1.6" fill="#7cb84e"/>
<text x="377.00" y="285.50" font-size="7.2" fill="#111" stroke="#111" stroke-width="0.2">Plts &lt;50 K/uL</text>
<text x="283.90" y="220.90" font-size="11" fill="#000" stroke="#000" stroke-width="0.3" font-weight="bold">D</text>
</svg>
</body></html>
